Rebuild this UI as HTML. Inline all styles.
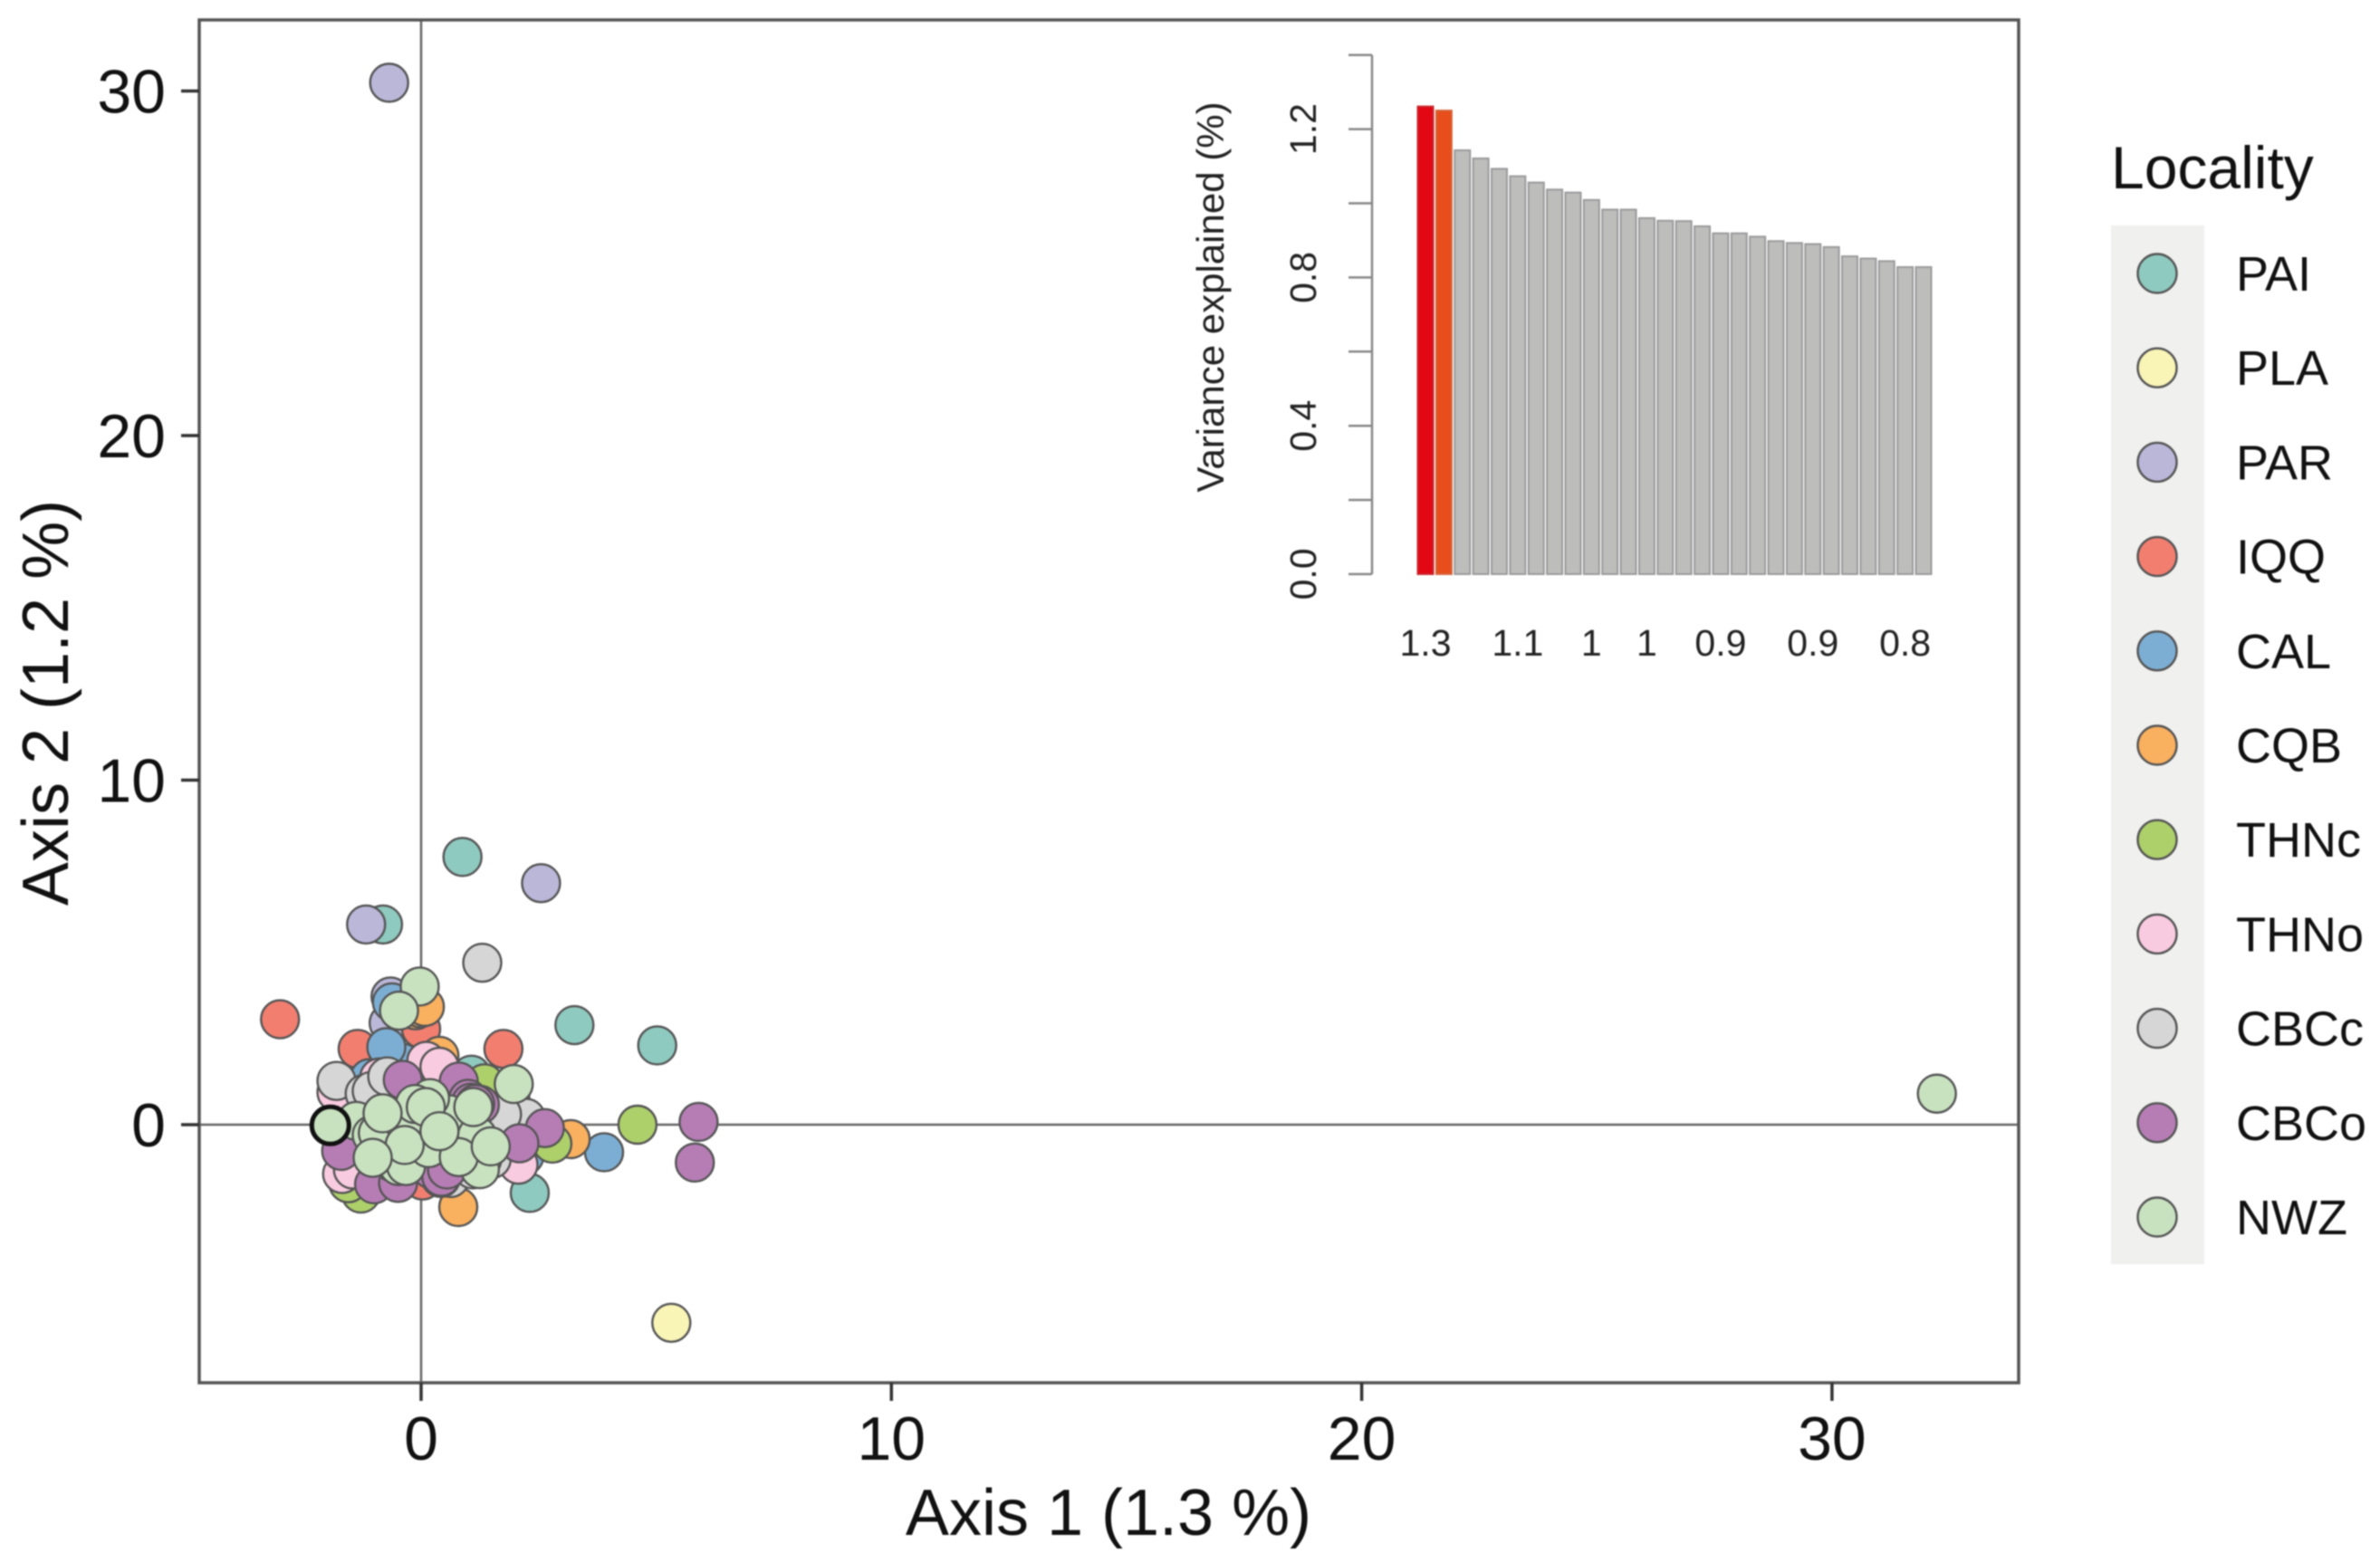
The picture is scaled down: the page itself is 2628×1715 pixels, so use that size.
<!DOCTYPE html>
<html lang="en">
<head>
<meta charset="utf-8">
<title>PCoA by locality</title>
<style>
html,body{margin:0;padding:0;background:#fff;width:2628px;height:1715px;overflow:hidden}
svg{display:block;font-family:"Liberation Sans",Arial,sans-serif;filter:blur(0.8px)}
</style>
</head>
<body>
<svg id="chart" xmlns="http://www.w3.org/2000/svg" width="2628" height="1715" viewBox="0 0 2628 1715">
  <rect x="0" y="0" width="2628" height="1715" fill="#fff"/>
  <g id="refs"></g>
  <g id="points"></g>
  <rect x="220" y="22" width="2009" height="1505" fill="none" stroke="#555" stroke-width="3.5"/>
  <g id="mainAxes"></g>
  <text x="1224" y="1695" font-size="72" text-anchor="middle" fill="#111">Axis 1 (1.3 %)</text>
  <text transform="translate(75,776) rotate(-90)" font-size="72" text-anchor="middle" fill="#111">Axis 2 (1.2 %)</text>
  <g id="inset"></g>
  <text transform="translate(1351,328) rotate(-90)" font-size="42" text-anchor="middle" fill="#222">Variance explained (%)</text>
  <text x="2331" y="208" font-size="66" fill="#111">Locality</text>
  <rect x="2331" y="249" width="103" height="1147" fill="#f0f0ef"/>
  <g id="legend"></g>
</svg>
<script>
// Main chart data (axis units)
const localities = ['PAI','PLA','PAR','IQQ','CAL','CQB','THNc','THNo','CBCc','CBCo','NWZ'];
const colours = ['#8ecabf','#f9f5b7','#bab7d9','#f27e70','#7caed4','#f9b05f','#add06a','#f9cbe0','#d6d6d6','#b67db5','#c8e2c0'];
const xTicks = [0,10,20,30];
const yTicks = [0,10,20,30];

const PAI_axis1 = [0.88,-0.81,3.26,5.02,2.31,1.07,0.6,-0.2];
const PAI_axis2 = [7.77,5.81,2.89,2.30,-1.98,1.45,0.4,-0.6];
const PLA_axis1 = [5.32];
const PLA_axis2 = [-5.75];
const PAR_axis1 = [-0.68,2.55,-1.17,-0.65,-0.69,1.9];
const PAR_axis2 = [30.24,7.01,5.81,3.72,2.95,0.75];
const IQQ_axis1 = [-3.0,-1.35,1.75,0.0,0.03];
const IQQ_axis2 = [3.06,2.2,2.2,2.78,-1.62];
const CAL_axis1 = [-0.62,-1.1,-0.4,3.89,2.2,-0.74];
const CAL_axis2 = [3.55,1.35,1.8,-0.8,-0.9,2.25];
const CQB_axis1 = [0.79,3.18,0.39,-0.12,-0.02,0.08];
const CQB_axis2 = [-2.39,-0.42,2.0,3.32,3.38,3.42];
const THNc_axis1 = [4.6,2.79,-1.28,1.35,-1.55];
const THNc_axis2 = [0.0,-0.55,-2.0,1.2,-1.7];
const THNo_axis1 = [-1.68,2.07,-1.8,-0.89,0.11,0.39,-1.45];
const THNo_axis2 = [-1.43,-1.16,0.94,1.37,1.85,1.68,-1.3];
const CBCc_axis1 = [1.3,-1.8,2.23,1.72,-1.2,-1.05,-0.72,0.62,1.1,1.5];
const CBCc_axis2 = [4.7,1.27,0.2,0.3,0.9,0.98,1.4,-1.55,-1.3,-1.0];
const CBCo_axis1 = [5.9,5.82,-1.7,-0.39,0.80,1.0,1.25,1.06,1.15,2.63,2.09,0.42,-0.48,0.22,-1.0,-0.49,0.43,0.55];
const CBCo_axis2 = [0.08,-1.1,-0.76,1.3,1.25,0.75,0.58,0.64,0.6,-0.1,-0.54,-1.55,-1.46,-1.3,-1.73,-1.69,-1.51,-1.3];
const NWZ_axis1 = [32.23,-0.03,-0.47,1.97,-1.38,-1.05,-0.6,0.0,0.5,1.0,1.3,-0.2,0.6,1.25,-0.48,-0.32,0.16,-0.92,-0.35,0.19,-0.13,0.10,1.19,0.80,1.11,-0.82,-0.35,0.39,1.48,-1.03];
const NWZ_axis2 = [0.90,4.01,3.31,1.18,0.11,-0.3,-1.1,-0.3,-0.6,0.1,-1.0,0.3,0.3,-1.29,-1.2,-1.2,-0.68,-0.24,0.03,0.77,0.6,0.51,-0.32,-0.94,0.51,0.33,-0.59,-0.19,-0.63,-0.96];
const highlighted_axis1 = [-1.93];
const highlighted_axis2 = [-0.02];

const seriesAxis1 = [PAI_axis1,PLA_axis1,PAR_axis1,IQQ_axis1,CAL_axis1,CQB_axis1,THNc_axis1,THNo_axis1,CBCc_axis1,CBCo_axis1,NWZ_axis1];
const seriesAxis2 = [PAI_axis2,PLA_axis2,PAR_axis2,IQQ_axis2,CAL_axis2,CQB_axis2,THNc_axis2,THNo_axis2,CBCc_axis2,CBCo_axis2,NWZ_axis2];

// Inset chart data
const varianceValues = [1.261,1.25,1.143,1.121,1.093,1.073,1.056,1.037,1.029,1.009,0.983,0.983,0.96,0.953,0.952,0.938,0.919,0.919,0.91,0.898,0.893,0.89,0.882,0.857,0.851,0.844,0.828,0.828];
const varianceTickValues = [0,0.2,0.4,0.6,0.8,1.0,1.2,1.4];
const varianceTickLabels = ['0.0','','0.4','','0.8','','1.2',''];
const barLabelIndex = [0,5,9,12,16,21,26];
const barLabelText = ['1.3','1.1','1','1','0.9','0.9','0.8'];

const NS = 'http://www.w3.org/2000/svg';
function make(parent, tag, attrs, text) {
  const el = document.createElementNS(NS, tag);
  for (const k in attrs) el.setAttribute(k, attrs[k]);
  if (text !== undefined) el.textContent = text;
  parent.appendChild(el);
  return el;
}
const X = v => 465 + 51.93 * v;
const Y = v => 1242 - 38.05 * v;
const barX = i => 1565 + 20.37 * i;
const barY = v => 634 - 409.5 * v;

const refs = document.getElementById('refs');
const vRef = make(refs, 'line', {x1:X(0),x2:X(0),y1:22,y2:1527,stroke:'#666','stroke-width':2.5});


const hRef = make(refs, 'line', {x1:220,x2:2229,y1:Y(0),y2:Y(0),stroke:'#666','stroke-width':2.5});



const pointsGroup = document.getElementById('points');
localities.forEach((name, s) => {
  const xs = seriesAxis1[s], ys = seriesAxis2[s];
  xs.forEach((xv, i) => {
    const c = make(pointsGroup, 'circle', {cx:X(xv),cy:Y(ys[i]),r:21,fill:colours[s],stroke:'#555','stroke-width':2.4});
    
    
  });
});
highlighted_axis1.forEach((xv, i) => {
  const c = make(pointsGroup, 'circle', {cx:X(xv),cy:Y(highlighted_axis2[i]),r:20.5,fill:colours[10],stroke:'#111','stroke-width':5});
  
  
});

const axes = document.getElementById('mainAxes');
xTicks.forEach(t => {
  const tick = make(axes, 'line', {x1:X(t),x2:X(t),y1:1527,y2:1547,stroke:'#333','stroke-width':3.5});
  
  
  const lab = make(axes, 'text', {x:X(t),y:1612,'font-size':68,'text-anchor':'middle',fill:'#111'}, String(t));
  
  
});
yTicks.forEach(t => {
  const tick = make(axes, 'line', {x1:200,x2:220,y1:Y(t),y2:Y(t),stroke:'#333','stroke-width':3.5});
  
  
  const lab = make(axes, 'text', {x:183,y:Y(t)+24,'font-size':68,'text-anchor':'end',fill:'#111'}, String(t));
  
  
});

const inset = document.getElementById('inset');
const insetAxis = make(inset, 'line', {x1:1515,x2:1515,y1:barY(1.4),y2:barY(0),stroke:'#888','stroke-width':2.5});


varianceTickValues.forEach((t, i) => {
  const tick = make(inset, 'line', {x1:1489,x2:1515,y1:barY(t),y2:barY(t),stroke:'#888','stroke-width':2.5});
  
  
  if (varianceTickLabels[i]) {
    const lab = make(inset, 'text', {transform:'translate(1453,' + barY(t) + ') rotate(-90)','font-size':41,'text-anchor':'middle',fill:'#222'}, varianceTickLabels[i]);
    
    
  }
});
varianceValues.forEach((v, i) => {
  const fill = i === 0 ? '#e30613' : i === 1 ? '#e84e1b' : '#bdbdbb';
  const stroke = i === 0 ? '#c9262c' : i === 1 ? '#d4643a' : '#9a9a9c';
  const r = make(inset, 'rect', {x:barX(i)+0.5,y:barY(v),width:17,height:barY(0)-barY(v),fill:fill,stroke:stroke,'stroke-width':2});
  
  
});
barLabelIndex.forEach((b, i) => {
  const lab = make(inset, 'text', {x:barX(b)+9,y:724,'font-size':41,'text-anchor':'middle',fill:'#222'}, barLabelText[i]);
  
  
});

const legend = document.getElementById('legend');
localities.forEach((name, i) => {
  const cy = 302 + 104.2 * i;
  const key = make(legend, 'circle', {cx:2382,cy:cy,r:21.5,fill:colours[i],stroke:'#555','stroke-width':2.4});
  
  
  const lab = make(legend, 'text', {x:2469,y:cy+19,'font-size':54,fill:'#111'}, name);
  
  
});
</script>
</body>
</html>
